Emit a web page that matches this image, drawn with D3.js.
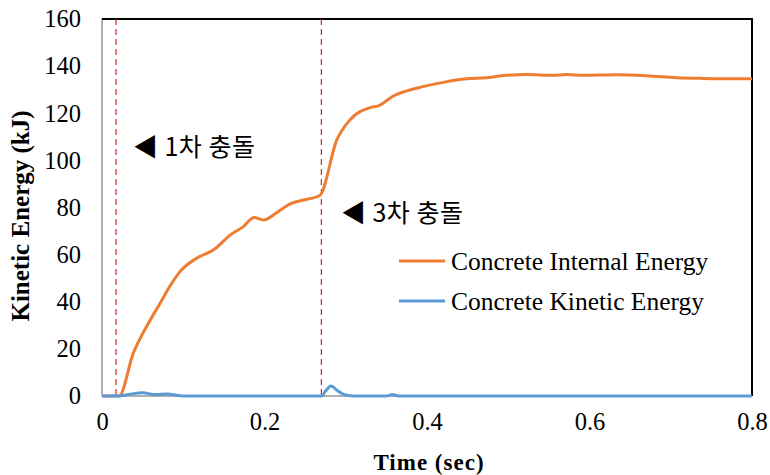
<!DOCTYPE html>
<html>
<head>
<meta charset="utf-8">
<script src="https://cdn.jsdelivr.net/npm/d3@7"></script>
<style>
  body { margin: 0; background: #fff; }
  svg { display: block; }
</style>
</head>
<body>
<script>
// data
const internalT = [0, 0.021, 0.0385, 0.057, 0.0714, 0.0837, 0.096, 0.1186, 0.137, 0.1596, 0.174, 0.187, 0.1986, 0.215, 0.231, 0.248, 0.268,
                   0.289, 0.305, 0.33, 0.34, 0.3585, 0.387, 0.42, 0.449, 0.473, 0.494, 0.523, 0.555, 0.572, 0.592, 0.633, 0.674, 0.707, 0.74, 0.8];
const internalE = [0, 0, 18.2, 30.8, 39.3, 46.7, 52.8, 58.9, 62, 68.8, 71.9, 75.8, 74.7, 77.8, 81.4, 83.2, 85.1,
                   108.7, 117.1, 122.4, 123.1, 127.3, 130.6, 133.1, 134.6, 135.1, 136, 136.4, 136.1, 136.4, 136.1, 136.3, 135.8, 135.1, 134.8, 134.6];
const kineticT = [0, 0.02, 0.035, 0.05, 0.065, 0.08, 0.1, 0.27, 0.276, 0.282, 0.29, 0.3, 0.31, 0.35, 0.357, 0.365, 0.4, 0.8];
const kineticE = [0, 0, 0.8, 1.4, 0.6, 0.8, 0, 0, 2.5, 4.2, 2.2, 0.4, 0, 0, 0.6, 0, 0, 0];
const impactT = [0.0172, 0.27];
const notes = [{t: 0.038, e: 102, text: "\u25C0 1\uCC28 \uCDA9\uB3CC"}, {t: 0.294, e: 74, text: "\u25C0 3\uCC28 \uCDA9\uB3CC"}];
const seriesNames = ["Concrete Internal Energy", "Concrete Kinetic Energy"];
const seriesColors = ["#ed7d31", "#5b9bd5"];
const xTicks = [0, 0.2, 0.4, 0.6, 0.8];
const yTicks = [0, 20, 40, 60, 80, 100, 120, 140, 160];

const width = 770, height = 475;
const plotL = 102, plotR = 752, plotT = 19, plotB = 396;

const svg = d3.select("body").append("svg")
  .attr("width", width)
  .attr("height", height);

const x = d3.scaleLinear().domain([0, 0.8]).range([plotL, plotR]);
const y = d3.scaleLinear().domain([0, 160]).range([plotB, plotT]);

const serif = "'Liberation Serif', 'Times New Roman', serif";

// frame: grey left/bottom axis, black top/right
svg.append("line").attr("x1", plotL).attr("x2", plotL).attr("y1", plotT).attr("y2", plotB)
  .attr("stroke", "#b0b0b0").attr("stroke-width", 2);
svg.append("line").attr("x1", plotL).attr("x2", plotR).attr("y1", plotB).attr("y2", plotB)
  .attr("stroke", "#b0b0b0").attr("stroke-width", 2);
svg.append("line").attr("x1", plotL).attr("x2", plotR + 1).attr("y1", plotT).attr("y2", plotT)
  .attr("stroke", "#000").attr("stroke-width", 2);
svg.append("line").attr("x1", plotR).attr("x2", plotR).attr("y1", plotT).attr("y2", plotB)
  .attr("stroke", "#000").attr("stroke-width", 2);

// tick labels
const yAxis = svg.append("g").attr("transform", "translate(" + plotL + ",0)")
  .call(d3.axisLeft(y).tickValues(yTicks).tickSize(0).tickPadding(21));
const xAxis = svg.append("g").attr("transform", "translate(0," + plotB + ")")
  .call(d3.axisBottom(x).tickValues(xTicks).tickSize(0).tickPadding(17).tickFormat(d3.format("~g")));
[yAxis, xAxis].forEach(g => {
  g.select(".domain").remove();
  g.selectAll("text").attr("font-family", serif).attr("font-size", 24.5).attr("fill", "#000");
});

// impact markers
impactT.forEach(t => {
  svg.append("line")
    .attr("x1", x(t)).attr("x2", x(t))
    .attr("y1", plotT).attr("y2", plotB)
    .attr("stroke", "#d62728").attr("stroke-width", 1.2)
    .attr("stroke-dasharray", "6,4");
});

const line = d3.line().x(d => x(d[0])).y(d => y(d[1])).curve(d3.curveMonotoneX);

svg.append("path")
  .attr("d", line(d3.zip(internalT, internalE)))
  .attr("fill", "none").attr("stroke", seriesColors[0]).attr("stroke-width", 3);
svg.append("path")
  .attr("d", line(d3.zip(kineticT, kineticE)))
  .attr("fill", "none").attr("stroke", seriesColors[1]).attr("stroke-width", 3);

// annotations
notes.forEach(n => {
  svg.append("text")
    .attr("x", x(n.t)).attr("y", y(n.e))
    .attr("font-family", "'Noto Sans CJK KR', sans-serif")
    .attr("font-size", 25)
    .attr("letter-spacing", 0.5)
    .text(n.text);
});

// legend
seriesNames.forEach((name, i) => {
  const ly = 261 + i * 40;
  svg.append("line").attr("x1", 399).attr("x2", 445).attr("y1", ly).attr("y2", ly)
    .attr("stroke", seriesColors[i]).attr("stroke-width", 3);
  svg.append("text").attr("x", 451).attr("y", ly + 8.5)
    .attr("font-family", serif).attr("font-size", 25.5)
    .text(name);
});

// axis titles
svg.append("text")
  .attr("transform", "translate(29,216) rotate(-90)")
  .attr("text-anchor", "middle")
  .attr("font-family", serif).attr("font-size", 25).attr("font-weight", "bold")
  .text("Kinetic Energy (kJ)");
svg.append("text")
  .attr("x", 429).attr("y", 470)
  .attr("text-anchor", "middle")
  .attr("font-family", serif).attr("font-size", 23).attr("font-weight", "bold")
  .attr("letter-spacing", 1)
  .text("Time (sec)");
</script>
</body>
</html>
